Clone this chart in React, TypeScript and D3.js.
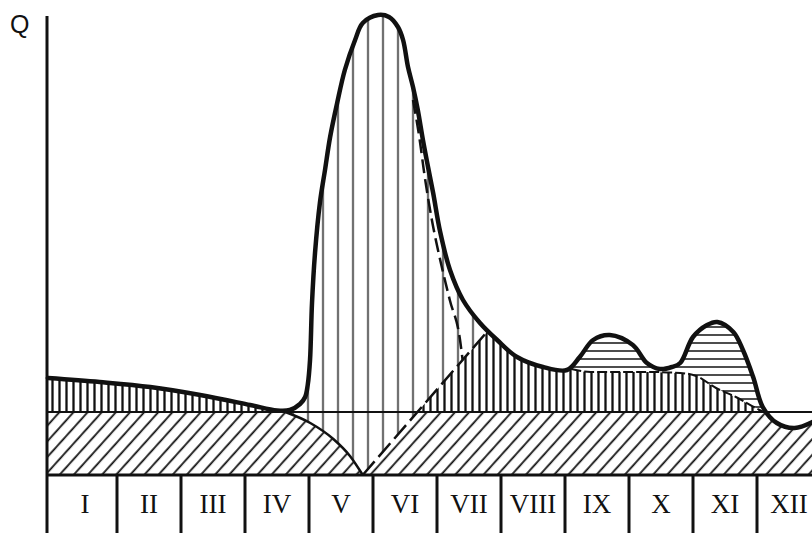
import * as d3 from 'd3'

type P = [number, number]

// months along the bottom strip
const months = ['I', 'II', 'III', 'IV', 'V', 'VI', 'VII', 'VIII', 'IX', 'X', 'XI', 'XII']

// hydrograph: [month, Q]
const hydrograph: P[] = [
  [-0.08, 19.4], [0.73, 18.6], [1.52, 17.6], [2.3, 16.0], [3.08, 14.0], [3.5, 12.9],
  [3.7, 13], [3.86, 14.2], [3.94, 15.6], [3.98, 18], [4.016, 23], [4.047, 34.4],
  [4.094, 44.4], [4.17, 54.4], [4.25, 61], [4.33, 67.6], [4.44, 74.4], [4.56, 81],
  [4.72, 87], [4.84, 90.4], [5.08, 92], [5.25, 91.6], [5.39, 89.6], [5.47, 87],
  [5.547, 81.6], [5.625, 77.6], [5.7, 73], [5.78, 67], [5.86, 61.6], [5.94, 56.4],
  [6.05, 48.6], [6.203, 41], [6.406, 35], [6.672, 30.4], [6.94, 27], [7.25, 23.6],
  [7.656, 21.6], [8.03, 21], [8.23, 23.6], [8.44, 27], [8.7, 28], [9.06, 26],
  [9.28, 22.4], [9.48, 21.2], [9.67, 21.6], [9.8, 22.4], [10.0, 27.6], [10.22, 30],
  [10.38, 30.6], [10.63, 28.6], [10.78, 25], [10.94, 19.6], [11.09, 13.6],
  [11.31, 10.4], [11.59, 9.4], [11.9, 10.8]
]

// groundwater level
const baseQ = 12.6

// separation lines
const notchCurve: P[] = [[3.63, 12.6], [4.02, 10.4], [4.38, 7.2], [4.64, 3.8], [4.84, 0]]
const risingSplit: P[] = [[4.84, 0], [6.78, 28.6]]
const recessionSplit: P[] = [
  [5.625, 75], [5.73, 67], [5.8, 60.4], [5.92, 51], [6.05, 43], [6.2, 35], [6.36, 27], [6.4, 23]
]
const rainBase: P[] = [
  [8.1, 21.2], [8.4, 20.6], [9.3, 20.6], [9.8, 20.4], [10.05, 19.8], [10.36, 17.4],
  [10.67, 15.6], [10.98, 13.4], [11.11, 12.6]
]

const W = 812
const H = 533
const INK = '#111'

const App = () => {
  const x = d3.scaleLinear().domain([0, 12]).range([53, 821])
  const y = d3.scaleLinear().domain([0, 92]).range([475, 15])
  const axisX = x(0) - 6
  const top = 100

  const line = d3.line<P>().x((d) => x(d[0])).y((d) => y(d[1]))
  const smooth = d3.line<P>().x((d) => x(d[0])).y((d) => y(d[1])).curve(d3.curveMonotoneX)
  const flow = d3.line<P>().x((d) => x(d[0])).y((d) => y(d[1])).curve(d3.curveCatmullRom.alpha(0.5))
  const mainArea = d3
    .area<P>()
    .x((d) => x(d[0]))
    .y0(y(0))
    .y1((d) => y(d[1]))
    .curve(d3.curveCatmullRom.alpha(0.5))(hydrograph) as string

  const [r0, r1] = risingSplit
  const tBase = r0[0] + ((r1[0] - r0[0]) * (baseQ - r0[1])) / (r1[1] - r0[1])
  const rbFirst = rainBase[0]
  const rbLast = rainBase[rainBase.length - 1]
  const tail = (pts: P[]) => 'L' + (smooth(pts) as string).slice(1)

  const floodPath =
    `M${x(notchCurve[0][0])},${y(top)}` +
    tail(notchCurve) +
    `L${x(r1[0])},${y(r1[1])}L${x(r1[0])},${y(top)}Z`

  const denseRight =
    `M${x(tBase)},${y(baseQ)}L${x(r1[0])},${y(r1[1])}L${x(r1[0])},${y(top)}` +
    `L${x(rbFirst[0])},${y(top)}` +
    tail(rainBase) +
    'Z'

  const rainPath =
    `M${x(rbFirst[0])},${y(top)}` + tail(rainBase) + `L${x(rbLast[0])},${y(top)}Z`

  return (
    <svg
      width={W}
      height={H}
      style={{ position: 'absolute', left: 0, top: 0, background: '#fff' }}
    >
      <defs>
        <clipPath id="under">
          <path d={mainArea} />
        </clipPath>
        <pattern id="diag" patternUnits="userSpaceOnUse" width={10.5} height={20} patternTransform="rotate(42)">
          <rect width={10.5} height={20} fill="#fff" />
          <line x1={5} y1={-5} x2={5} y2={25} stroke={INK} strokeWidth={1.8} />
        </pattern>
        <pattern id="dense" patternUnits="userSpaceOnUse" width={7} height={10}>
          <rect width={7} height={10} fill="#fff" />
          <line x1={3.5} y1={-1} x2={3.5} y2={11} stroke={INK} strokeWidth={2.3} />
        </pattern>
        <pattern id="wide" patternUnits="userSpaceOnUse" x={0.5} width={15} height={10}>
          <rect width={15} height={10} fill="#fff" />
          <line x1={7.5} y1={-1} x2={7.5} y2={11} stroke={INK} strokeWidth={1.4} />
        </pattern>
        <pattern id="horiz" patternUnits="userSpaceOnUse" y={3} width={10} height={8}>
          <rect width={10} height={8} fill="#fff" />
          <line x1={-1} y1={4} x2={11} y2={4} stroke={INK} strokeWidth={1.5} />
        </pattern>
      </defs>

      <rect width={W} height={H} fill="#fff" />

      <g clipPath="url(#under)">
        <rect x={axisX} y={y(baseQ)} width={W - axisX} height={y(0) - y(baseQ)} fill="url(#diag)" />
        <path d={floodPath} fill="url(#wide)" />
        <rect
          x={axisX}
          y={y(top)}
          width={x(notchCurve[0][0]) - axisX}
          height={y(baseQ) - y(top)}
          fill="url(#dense)"
        />
        <path d={denseRight} fill="url(#dense)" />
        <path d={rainPath} fill="url(#horiz)" />
      </g>

      {/* separation lines */}
      <line x1={axisX} x2={W} y1={y(baseQ)} y2={y(baseQ)} stroke={INK} strokeWidth={2} />
      <path d={smooth(notchCurve) as string} fill="none" stroke={INK} strokeWidth={2.5} />
      <path d={line(risingSplit) as string} fill="none" stroke={INK} strokeWidth={2.5} strokeDasharray="18,6" />
      <path d={smooth(recessionSplit) as string} fill="none" stroke={INK} strokeWidth={2.5} strokeDasharray="14,6" />
      <path d={smooth(rainBase) as string} fill="none" stroke={INK} strokeWidth={2} strokeDasharray="10,3" />

      {/* hydrograph */}
      <path
        d={flow(hydrograph) as string}
        fill="none"
        stroke={INK}
        strokeWidth={4.5}
        strokeLinejoin="round"
        strokeLinecap="round"
      />

      {/* month strip */}
      <line x1={axisX} x2={W} y1={y(0)} y2={y(0)} stroke={INK} strokeWidth={3} />
      {months.slice(1).map((m, i) => (
        <line key={m} x1={x(i + 1)} x2={x(i + 1)} y1={y(0)} y2={H} stroke={INK} strokeWidth={3} />
      ))}
      {months.map((m, i) => (
        <text
          key={m}
          x={x(i + 0.5)}
          y={513}
          textAnchor="middle"
          fontFamily="Liberation Serif"
          fontSize={27}
          fill={INK}
        >
          {m}
        </text>
      ))}

      {/* axis */}
      <line x1={axisX} x2={axisX} y1={16} y2={H} stroke={INK} strokeWidth={3} />
      <text x={10} y={33} fontFamily="Liberation Sans" fontSize={25} fill={INK}>
        Q
      </text>
    </svg>
  )
}

export default App
